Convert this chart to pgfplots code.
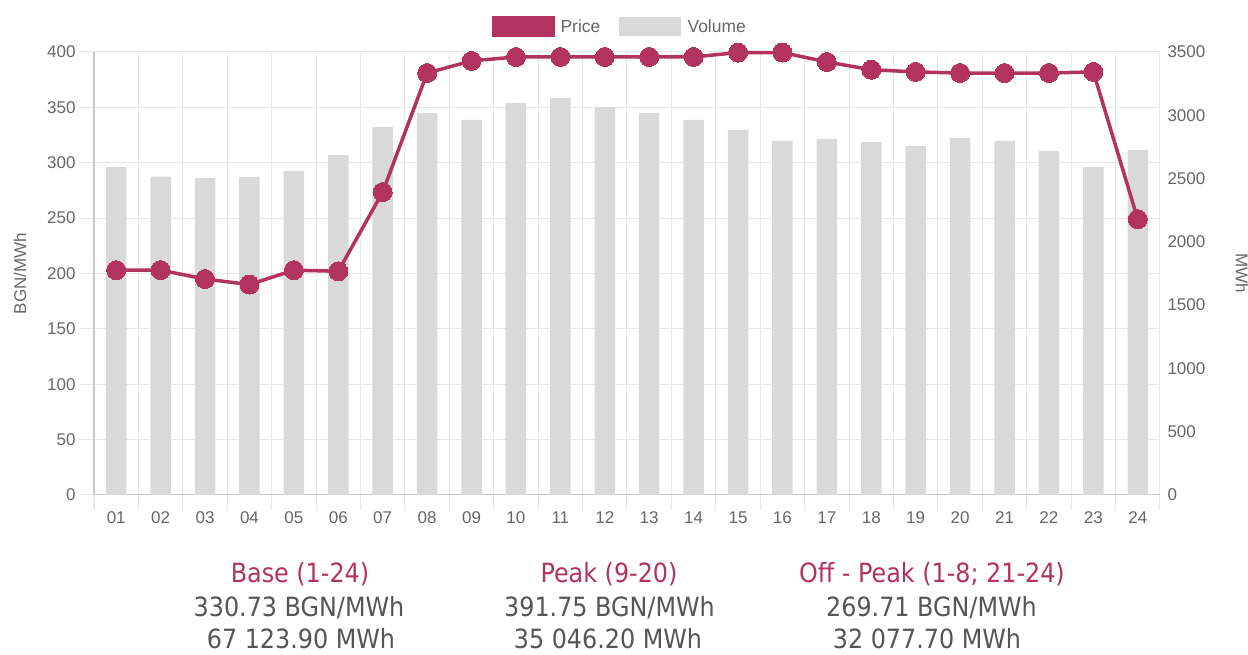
\documentclass[border=0pt]{standalone}
\usepackage{pgfplots}
\pgfplotsset{compat=1.18}
\usepackage{fontspec}
\setmainfont{Liberation Sans}
\newfontfamily\sumfont{DejaVu Sans}[FakeStretch=0.9]
\definecolor{pricec}{RGB}{178,50,96}
\definecolor{barc}{RGB}{217,217,217}
\definecolor{gridc}{RGB}{232,232,232}
\definecolor{axisc}{RGB}{200,200,200}
\definecolor{tickc}{RGB}{102,102,102}
\definecolor{txtc}{RGB}{85,85,85}
\newcommand\tickfont{\fontsize{17}{20}\selectfont}
\pgfplotsset{common/.style={at={(94pt,160pt)}, anchor=south west, scale only axis,
  width=1066pt, height=443pt, xmin=0.5, xmax=24.5}}
\begin{document}
\begin{tikzpicture}[x=1pt,y=1pt]
\path[use as bounding box] (0,0) rectangle (1248,655);
% grid and left axis
\begin{axis}[common,
  ymin=0, ymax=400, ytick={0,50,...,400},
  xtick={0.5,1.5,...,24.5}, xticklabels={},
  grid=major, grid style={draw=gridc, line width=1pt},
  axis x line*=bottom, axis y line*=left,
  axis line style={draw=axisc, line width=1pt},
  tick align=outside, major tick length=15pt,
  tick style={draw=gridc, line width=1pt},
  yticklabel style={font=\tickfont, text=tickc},
  /pgf/number format/assume math mode=true,
  ylabel={BGN/MWh},
  ylabel style={at={(axis description cs:-0.0694,0.5)}, anchor=center, font=\tickfont, text=tickc},
]
\end{axis}
% volume bars, right axis
\begin{axis}[common,
  ymin=0, ymax=3500, ytick={0,500,...,3500},
  xtick={1,...,24},
  xticklabels={01,02,03,04,05,06,07,08,09,10,11,12,13,14,15,16,17,18,19,20,21,22,23,24},
  axis x line*=bottom, axis y line*=right, axis line style={draw=none},
  major tick length=0pt, tick style={draw=none},
  tick label style={font=\tickfont, text=tickc},
  xticklabel style={yshift=-13pt},
  yticklabel style={xshift=4pt},
  scaled y ticks=false,
  /pgf/number format/1000 sep={},
  /pgf/number format/assume math mode=true,
  ylabel={MWh},
  ylabel style={at={(axis description cs:1.0769,0.5)}, anchor=center, rotate=180, font=\tickfont, text=tickc},
]
\addplot[ybar, bar width=20.5pt, fill=barc, draw=none] coordinates {
(1,2591) (2,2515) (3,2505) (4,2512) (5,2560) (6,2686) (7,2907) (8,3018)
(9,2963) (10,3097) (11,3137) (12,3065) (13,3018) (14,2963) (15,2884) (16,2797)
(17,2813) (18,2789) (19,2757) (20,2821) (21,2797) (22,2718) (23,2591) (24,2726)};
\end{axis}
% price line
\begin{axis}[common, ymin=0, ymax=400, hide axis, clip=false]
\addplot[pricec, line width=3.5pt, mark=*, mark size=9.5pt,
  mark options={fill=pricec, draw=pricec, line width=0pt}] coordinates {
(1,203) (2,203) (3,195) (4,190) (5,203) (6,202) (7,273.5) (8,381)
(9,392) (10,395.5) (11,395.5) (12,395.5) (13,395.5) (14,395.5) (15,399.5) (16,399.5)
(17,391) (18,384) (19,382) (20,381) (21,381) (22,381) (23,382) (24,249)};
\end{axis}
% legend
\fill[pricec] (492,618) rectangle (555,639);
\node[anchor=west, font=\fontsize{17.5}{20}\selectfont, text=tickc] at (557,628.5) {Price};
\fill[barc] (619,619) rectangle (681,638);
\node[anchor=west, font=\fontsize{17.5}{20}\selectfont, text=tickc] at (684,628.5) {Volume};
% summary
\begin{scope}[every node/.style={anchor=base, inner sep=0pt, font=\sumfont\fontsize{26.5}{30}\selectfont}]
\node[text=pricec] at (300,72) {Base (1-24)};
\node[text=txtc] at (299,38) {330.73 BGN/MWh};
\node[text=txtc] at (301,6) {67 123.90 MWh};
\node[text=pricec] at (609,72) {Peak (9-20)};
\node[text=txtc] at (609.5,38) {391.75 BGN/MWh};
\node[text=txtc] at (608,6) {35 046.20 MWh};
\node[text=pricec] at (932,72) {Off - Peak (1-8; 21-24)};
\node[text=txtc] at (931.5,38) {269.71 BGN/MWh};
\node[text=txtc] at (927,6) {32 077.70 MWh};
\end{scope}
\end{tikzpicture}
\end{document}
